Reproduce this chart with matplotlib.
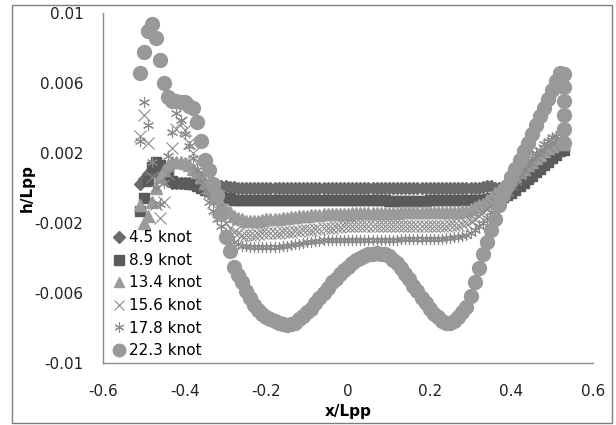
import numpy as np
import matplotlib
matplotlib.use('Agg')
import matplotlib.pyplot as plt
from matplotlib.patches import Rectangle

plt.rcParams['axes.unicode_minus'] = False
plt.rcParams['font.family'] = 'DejaVu Sans'

# station positions x/Lpp
x_lpp = [-0.51, -0.50, -0.49, -0.48, -0.47, -0.46, -0.45, -0.44, -0.43, -0.42,
         -0.41, -0.40, -0.39, -0.38, -0.37, -0.36, -0.35, -0.34, -0.33, -0.32,
         -0.31, -0.30, -0.29, -0.28, -0.27, -0.26, -0.25, -0.24, -0.23, -0.22,
         -0.21, -0.20, -0.19, -0.18, -0.17, -0.16, -0.15, -0.14, -0.13, -0.12,
         -0.11, -0.10, -0.09, -0.08, -0.07, -0.06, -0.05, -0.04, -0.03, -0.02,
         -0.01, 0.00, 0.01, 0.02, 0.03, 0.04, 0.05, 0.06, 0.07, 0.08,
         0.09, 0.10, 0.11, 0.12, 0.13, 0.14, 0.15, 0.16, 0.17, 0.18,
         0.19, 0.20, 0.21, 0.22, 0.23, 0.24, 0.25, 0.26, 0.27, 0.28,
         0.29, 0.30, 0.31, 0.32, 0.33, 0.34, 0.35, 0.36, 0.37, 0.38,
         0.39, 0.40, 0.41, 0.42, 0.43, 0.44, 0.45, 0.46, 0.47, 0.48,
         0.49, 0.50, 0.51, 0.52, 0.53]

# h/Lpp values, in units of 1e-3
h_45 = [0.2, 0.5, 0.8, 1.0, 0.9, 0.7, 0.5, 0.4, 0.3, 0.3,
        0.3, 0.3, 0.3, 0.3, 0.3, 0.2, 0.2, 0.2, 0.1, 0.1,
        0.1, 0.1, 0.05, 0.05, 0.0, 0.0, 0.0, 0.0, 0.0, 0.0,
        0.0, 0.0, 0.0, 0.0, 0.0, 0.0, 0.0, 0.0, 0.0, 0.0,
        0.0, 0.0, 0.0, 0.0, 0.0, 0.0, 0.0, 0.0, 0.0, 0.0,
        0.0, 0.0, 0.0, 0.0, 0.0, 0.0, 0.0, 0.0, 0.0, 0.0,
        0.0, 0.0, 0.0, 0.0, 0.0, 0.0, 0.0, 0.0, 0.0, 0.0,
        0.0, 0.0, 0.0, 0.0, 0.0, 0.0, 0.0, 0.0, 0.0, 0.0,
        0.0, 0.0, 0.0, 0.0, 0.05, 0.1, 0.1, 0.0, 0.0, 0.0,
        0.1, 0.2, 0.4, 0.6, 0.8, 1.0, 1.2, 1.4, 1.6, 1.8,
        2.0, 2.2, 2.3, 2.4, 2.4]

h_89 = [-1.3, -0.6, 0.4, 1.2, 1.5, 1.3, 0.9, 0.6, 0.4, 0.3,
        0.3, 0.3, 0.2, 0.2, 0.1, 0.0, -0.1, -0.2, -0.3, -0.4,
        -0.5, -0.6, -0.6, -0.7, -0.7, -0.7, -0.7, -0.7, -0.7, -0.7,
        -0.7, -0.7, -0.7, -0.7, -0.7, -0.7, -0.7, -0.7, -0.7, -0.7,
        -0.7, -0.7, -0.7, -0.7, -0.7, -0.7, -0.7, -0.7, -0.7, -0.7,
        -0.7, -0.7, -0.7, -0.7, -0.7, -0.7, -0.7, -0.7, -0.7, -0.7,
        -0.7, -0.75, -0.75, -0.75, -0.75, -0.75, -0.75, -0.75, -0.75, -0.75,
        -0.75, -0.7, -0.7, -0.7, -0.7, -0.7, -0.7, -0.7, -0.7, -0.7,
        -0.7, -0.7, -0.7, -0.7, -0.7, -0.65, -0.6, -0.6, -0.55, -0.5,
        -0.4, -0.3, -0.1, 0.1, 0.3, 0.5, 0.7, 0.9, 1.1, 1.3,
        1.5, 1.7, 1.9, 2.1, 2.2]

h_134 = [-1.0, -2.0, -1.6, -0.8, 0.0, 0.6, 1.0, 1.3, 1.5, 1.5,
         1.5, 1.4, 1.3, 1.1, 0.9, 0.6, 0.3, 0.0, -0.3, -0.6,
         -0.9, -1.2, -1.4, -1.6, -1.7, -1.8, -1.9, -1.9, -1.9, -1.9,
         -1.85, -1.8, -1.8, -1.75, -1.75, -1.7, -1.7, -1.65, -1.65, -1.6,
         -1.6, -1.6, -1.55, -1.55, -1.55, -1.5, -1.5, -1.5, -1.5, -1.5,
         -1.5, -1.5, -1.45, -1.45, -1.45, -1.45, -1.45, -1.45, -1.45, -1.45,
         -1.45, -1.45, -1.45, -1.45, -1.4, -1.4, -1.4, -1.4, -1.4, -1.4,
         -1.4, -1.4, -1.4, -1.4, -1.4, -1.4, -1.35, -1.35, -1.35, -1.3,
         -1.3, -1.2, -1.1, -1.0, -0.9, -0.7, -0.5, -0.3, -0.1, 0.1,
         0.3, 0.5, 0.7, 0.9, 1.1, 1.3, 1.5, 1.7, 1.9, 2.1,
         2.3, 2.4, 2.5, 2.6, 2.5]

h_156 = [3.0, 4.2, 2.6, 0.6, -0.9, -1.7, -0.8, 0.8, 2.3, 3.4,
         3.8, 3.3, 2.6, 2.0, 1.4, 0.8, 0.2, -0.3, -0.8, -1.2,
         -1.6, -2.0, -2.3, -2.5, -2.6, -2.7, -2.7, -2.7, -2.7, -2.65,
         -2.6, -2.6, -2.6, -2.55, -2.55, -2.5, -2.5, -2.5, -2.45, -2.45,
         -2.4, -2.4, -2.4, -2.35, -2.35, -2.3, -2.3, -2.3, -2.25, -2.25,
         -2.2, -2.2, -2.2, -2.2, -2.2, -2.2, -2.2, -2.2, -2.2, -2.2,
         -2.2, -2.2, -2.2, -2.2, -2.2, -2.2, -2.2, -2.2, -2.2, -2.2,
         -2.2, -2.2, -2.2, -2.2, -2.15, -2.15, -2.1, -2.1, -2.1, -2.05,
         -2.0, -1.9, -1.8, -1.6, -1.4, -1.2, -1.0, -0.8, -0.6, -0.4,
         -0.1, 0.2, 0.5, 0.8, 1.0, 1.3, 1.5, 1.8, 2.0, 2.2,
         2.4, 2.6, 2.7, 2.8, 2.8]

h_178 = [2.7, 4.9, 3.6, 1.5, 0.0, -0.9, 0.3, 1.8, 3.2, 4.3,
         3.9, 3.1, 2.4, 1.7, 1.0, 0.4, -0.2, -0.8, -1.3, -1.8,
         -2.2, -2.6, -2.9, -3.1, -3.2, -3.3, -3.3, -3.35, -3.4, -3.4,
         -3.4, -3.4, -3.4, -3.35, -3.35, -3.3, -3.3, -3.25, -3.2, -3.2,
         -3.15, -3.1, -3.1, -3.05, -3.05, -3.0, -3.0, -3.0, -3.0, -3.0,
         -3.0, -3.0, -3.0, -3.0, -3.0, -3.0, -3.0, -2.95, -2.95, -2.95,
         -2.95, -2.95, -2.95, -2.95, -2.9, -2.9, -2.9, -2.9, -2.9, -2.9,
         -2.9, -2.9, -2.9, -2.9, -2.9, -2.85, -2.85, -2.8, -2.8, -2.75,
         -2.7, -2.6, -2.4, -2.2, -2.0, -1.7, -1.4, -1.1, -0.8, -0.5,
         -0.2, 0.2, 0.5, 0.8, 1.1, 1.4, 1.7, 2.0, 2.2, 2.5,
         2.7, 2.9, 3.0, 3.1, 3.0]

h_223 = [6.6, 7.8, 9.0, 9.4, 8.6, 7.3, 6.0, 5.2, 5.0, 5.0,
         4.9, 4.9, 4.7, 4.6, 3.8, 2.7, 1.6, 1.0, 0.2, -0.4,
         -1.5, -2.8, -3.6, -4.5, -5.0, -5.4, -5.9, -6.3, -6.7, -7.0,
         -7.2, -7.35, -7.5, -7.6, -7.7, -7.8, -7.85, -7.8, -7.7, -7.5,
         -7.3, -7.1, -6.9, -6.6, -6.3, -6.0, -5.7, -5.4, -5.2, -4.9,
         -4.7, -4.5, -4.3, -4.1, -4.0, -3.9, -3.8, -3.75, -3.7, -3.75,
         -3.8, -3.9, -4.1, -4.3, -4.6, -4.9, -5.2, -5.6, -5.9, -6.3,
         -6.6, -6.9, -7.2, -7.4, -7.6, -7.7, -7.7, -7.6, -7.4, -7.1,
         -6.8, -6.2, -5.4, -4.6, -3.8, -3.1, -2.4, -1.8, -1.0, -0.4,
         0.1, 0.6, 1.1, 1.6, 2.1, 2.6, 3.1, 3.6, 4.1, 4.6,
         5.1, 5.6, 6.1, 6.6, 6.5]
# extra points at the stern end for 22.3 knot
x_tail_223 = [0.53, 0.53, 0.53, 0.53, 0.53]
h_tail_223 = [5.8, 5.0, 4.2, 3.4, 2.6]

labels = ['4.5 knot', '8.9 knot', '13.4 knot', '15.6 knot', '17.8 knot', '22.3 knot']

fig = plt.figure(figsize=(6.16, 4.25), dpi=100)
ax = fig.add_axes([0.1672, 0.1459, 0.7955, 0.8235])

x = np.array(x_lpp)
ax.plot(x, np.array(h_45) * 1e-3, ls='none', marker='D', ms=6.5, color='#6a6a6a',
        mec='#6a6a6a', label=labels[0])
ax.plot(x, np.array(h_89) * 1e-3, ls='none', marker='s', ms=7.5, color='#5a5a5a',
        mec='#5a5a5a', label=labels[1])
ax.plot(x, np.array(h_134) * 1e-3, ls='none', marker='^', ms=8.5, color='#9b9b9b',
        mec='#9b9b9b', label=labels[2])
ax.plot(x, np.array(h_156) * 1e-3, ls='none', marker='x', ms=8, mew=0.8,
        color='#8a8a8a', label=labels[3])
ax.plot(x, np.array(h_178) * 1e-3, ls='none', marker=(6, 2, 0), ms=8, mew=0.8,
        color='#8a8a8a', label=labels[4])
ax.plot(np.concatenate([x, x_tail_223]),
        np.concatenate([h_223, h_tail_223]) * 1e-3,
        ls='none', marker='o', ms=10, color='#999999', mec='#999999',
        label=labels[5])

ax.set_xlim(-0.6, 0.6)
ax.set_ylim(-0.01, 0.01)
ax.set_xticks([-0.6, -0.4, -0.2, 0, 0.2, 0.4, 0.6])
ax.set_xticklabels(['-0.6', '-0.4', '-0.2', '0', '0.2', '0.4', '0.6'])
ax.set_yticks([-0.01, -0.006, -0.002, 0.002, 0.006, 0.01])
ax.set_yticklabels(['-0.01', '-0.006', '-0.002', '0.002', '0.006', '0.01'])
ax.tick_params(length=0, labelsize=11, colors='#222222')
ax.tick_params(axis='y', pad=14)
ax.tick_params(axis='x', pad=15)
for s in ['top', 'right']:
    ax.spines[s].set_visible(False)
for s in ['left', 'bottom']:
    ax.spines[s].set_color('#8c8c8c')
    ax.spines[s].set_linewidth(1)

ax.set_xlabel('x/Lpp', fontsize=11, fontweight='bold', labelpad=4)
ax.set_ylabel('h/Lpp', fontsize=11, fontweight='bold', labelpad=0)

leg = ax.legend(loc='lower left', bbox_to_anchor=(0.01, 0.0), frameon=False,
                fontsize=11, numpoints=1, handlelength=0.8, handletextpad=0.3,
                labelspacing=0.5, borderaxespad=0.1, borderpad=0.2,
                markerscale=0.9)

fig.patches.append(Rectangle((12 / 616, 2 / 425), 600 / 616, 418 / 425,
                             transform=fig.transFigure, fill=False,
                             edgecolor='#7f7f7f', lw=1))

fig.savefig('out.png', dpi=100)
